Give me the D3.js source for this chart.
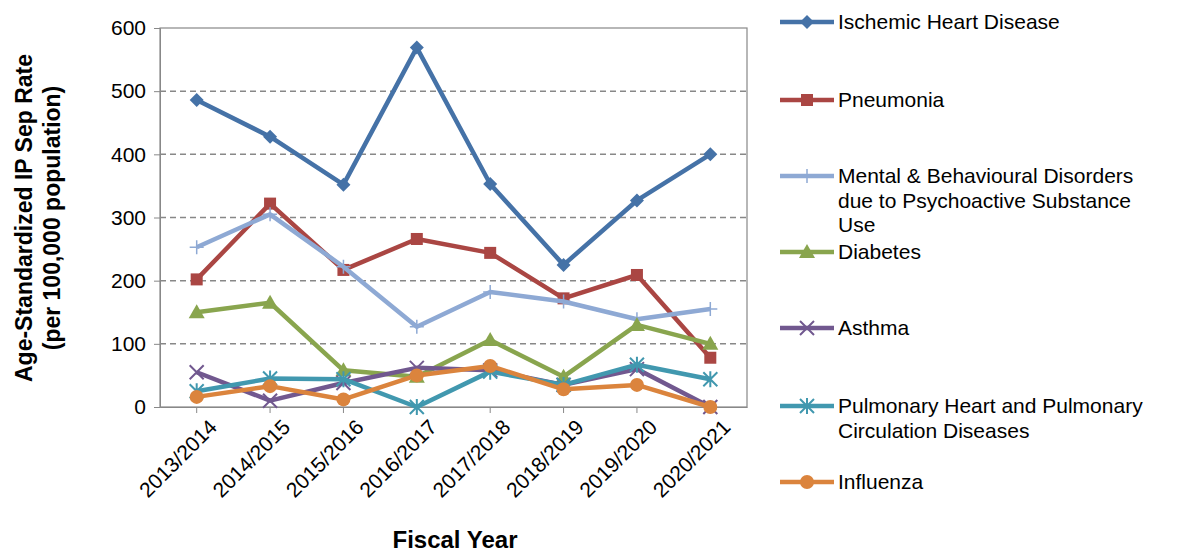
<!DOCTYPE html>
<html>
<head>
<script src="https://cdn.jsdelivr.net/npm/d3@7"></script>
<style>body{margin:0;background:#fff;font-family:"Liberation Sans",Arial,sans-serif;}</style>
</head>
<body>
<svg id="chart" width="1190" height="553"></svg>
<script>
const years = ['2013/2014','2014/2015','2015/2016','2016/2017','2017/2018','2018/2019','2019/2020','2020/2021'];
const ischemic = [486, 428, 352, 569, 353, 225, 327, 400];
const pneumonia = [202, 322, 217, 266, 244, 172, 209, 78];
const mental = [253, 305, 222, 127, 182, 167, 139, 155];
const diabetes = [150, 165, 58, 48, 106, 48, 130, 100];
const asthma = [55, 10, 38, 62, 58, 35, 60, 0];
const pulmonary = [25, 45, 44, 0, 56, 35, 67, 44];
const influenza = [16, 33, 12, 50, 65, 28, 35, 0];
const yTicks = [0, 100, 200, 300, 400, 500, 600];

const series = [
  {name: ['Ischemic Heart Disease'], values: ischemic, color: '#4572a7', marker: 'diamond'},
  {name: ['Pneumonia'], values: pneumonia, color: '#aa4643', marker: 'square'},
  {name: ['Mental & Behavioural Disorders', 'due to Psychoactive Substance', 'Use'], values: mental, color: '#8ea9d4', marker: 'plus'},
  {name: ['Diabetes'], values: diabetes, color: '#89a54e', marker: 'triangle'},
  {name: ['Asthma'], values: asthma, color: '#71588f', marker: 'x'},
  {name: ['Pulmonary Heart and Pulmonary', 'Circulation Diseases'], values: pulmonary, color: '#4198af', marker: 'star'},
  {name: ['Influenza'], values: influenza, color: '#db843d', marker: 'circle'}
];
const legendY = [22, 100, 176, 252, 328, 406, 482];

const svg = d3.select('#chart');
const L = 160, R = 747, T = 28, B = 407;
const x = d3.scaleBand().domain(years).range([L, R]);
const y = d3.scaleLinear().domain([0, 600]).range([B, T]);
const cx = d => x(d) + x.bandwidth() / 2;

svg.append('g').selectAll('line').data(yTicks.filter(t => t > 0 && t < 600)).join('line')
  .attr('x1', L).attr('x2', R).attr('y1', d => y(d)).attr('y2', d => y(d))
  .attr('stroke', '#888').attr('stroke-width', 1.5).attr('stroke-dasharray', '6,4');
svg.append('rect').attr('x', L).attr('y', T).attr('width', R - L).attr('height', B - T)
  .attr('fill', 'none').attr('stroke', '#888').attr('stroke-width', 1.2);

const yAxis = svg.append('g').attr('transform', `translate(${L},0)`)
  .call(d3.axisLeft(y).tickValues(yTicks).tickSize(6).tickPadding(8));
yAxis.select('.domain').attr('stroke', '#888');
yAxis.selectAll('line').attr('stroke', '#888');
yAxis.selectAll('text').attr('font-size', 21).attr('font-family', 'Liberation Sans, Arial').attr('fill', '#000');

const xAxis = svg.append('g').attr('transform', `translate(0,${B})`)
  .call(d3.axisBottom(x).tickSize(6).tickSizeOuter(0));
xAxis.select('.domain').attr('stroke', '#888');
xAxis.selectAll('line').attr('stroke', '#888');
xAxis.selectAll('text').attr('font-size', 21).attr('font-family', 'Liberation Sans, Arial').attr('fill', '#000')
  .attr('text-anchor', 'end').attr('dy', '0.35em').attr('transform', 'translate(10,10) rotate(-45)');

svg.append('text').attr('x', 455).attr('y', 548).attr('text-anchor', 'middle')
  .attr('font-size', 24).attr('font-weight', 'bold').text('Fiscal Year');
const yt = svg.append('text').attr('transform', 'translate(32,218) rotate(-90)')
  .attr('text-anchor', 'middle').attr('font-size', 23).attr('font-weight', 'bold');
yt.append('tspan').attr('x', 0).attr('dy', 0).text('Age-Standardized IP Sep Rate');
yt.append('tspan').attr('x', 0).attr('dy', 28).text('(per 100,000 population)');

function marker(g, type, color) {
  const s = 7;
  if (type === 'diamond') g.append('path').attr('d', `M0,${-s}L${s},0L0,${s}L${-s},0Z`).attr('fill', color);
  else if (type === 'square') g.append('rect').attr('x', -6).attr('y', -6).attr('width', 12).attr('height', 12).attr('fill', color);
  else if (type === 'triangle') g.append('path').attr('d', 'M0,-8L8,6L-8,6Z').attr('fill', color);
  else if (type === 'circle') g.append('circle').attr('r', 7).attr('fill', color);
  else if (type === 'plus') g.append('path').attr('d', 'M-7,0H7M0,-7V7').attr('stroke', color).attr('stroke-width', 1.5);
  else if (type === 'x') g.append('path').attr('d', 'M-7,-7L7,7M-7,7L7,-7').attr('stroke', color).attr('stroke-width', 2);
  else if (type === 'star') g.append('path').attr('d', 'M-7,-7L7,7M-7,7L7,-7M0,-8V8').attr('stroke', color).attr('stroke-width', 2);
}

const line = d3.line().x((d, i) => cx(years[i])).y(d => y(d));
series.forEach((s, k) => {
  svg.append('path').datum(s.values).attr('d', line).attr('fill', 'none')
    .attr('stroke', s.color).attr('stroke-width', 4.5).attr('stroke-linejoin', 'round');
  s.values.forEach((v, i) => marker(svg.append('g').attr('transform', `translate(${cx(years[i])},${y(v)})`), s.marker, s.color));
  const ly = legendY[k];
  svg.append('line').attr('x1', 780).attr('x2', 834).attr('y1', ly).attr('y2', ly)
    .attr('stroke', s.color).attr('stroke-width', 4.5);
  marker(svg.append('g').attr('transform', `translate(807,${ly})`), s.marker, s.color);
  const t = svg.append('text').attr('x', 838).attr('y', ly).attr('font-size', 21);
  s.name.forEach((n, j) => t.append('tspan').attr('x', 838).attr('dy', j === 0 ? '0.35em' : '1.15em').text(n));
});
</script>
</body>
</html>
